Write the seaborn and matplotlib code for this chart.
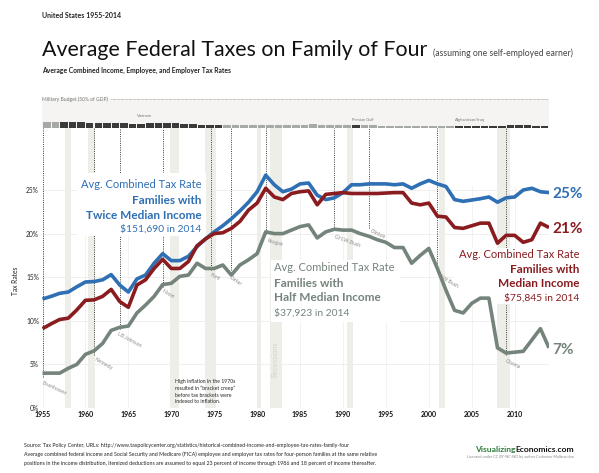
import matplotlib
matplotlib.use("Agg")
import matplotlib.pyplot as plt
from matplotlib.patches import Rectangle
import numpy as np
import pandas as pd
import seaborn as sns

# ---------------- data ----------------
years = list(range(1955, 2015))
twice_median_income = [12.5, 12.8, 13.15, 13.3, 13.9, 14.45, 14.5, 14.7, 15.3, 14.1,
                       13.3, 14.8, 15.25, 16.6, 17.7, 16.9, 16.9, 17.4, 18.5, 19.4,
                       20.2, 20.9, 21.7, 22.6, 23.6, 24.8, 26.7, 25.6, 24.8, 25.1,
                       25.7, 25.8, 24.4, 23.9, 24.1, 24.7, 25.6, 25.6, 25.7, 25.7,
                       25.7, 25.6, 25.7, 25.2, 25.7, 26.1, 25.7, 25.4, 23.9, 23.7,
                       23.85, 24.0, 24.2, 23.6, 24.1, 24.2, 25.0, 25.2, 24.8, 24.7]
median_income = [9.1, 9.65, 10.15, 10.3, 11.25, 12.35, 12.4, 12.8, 13.6, 12.2,
                 11.55, 14.1, 14.7, 16.0, 17.05, 16.0, 16.0, 16.8, 18.6, 19.4,
                 20.0, 20.1, 20.6, 21.4, 22.7, 23.5, 25.2, 24.2, 23.9, 24.6,
                 24.8, 24.9, 23.3, 24.5, 24.6, 24.7, 24.6, 24.6, 24.6, 24.6,
                 24.65, 24.7, 24.7, 23.5, 23.3, 23.5, 22.0, 21.9, 20.7, 20.6,
                 20.9, 21.2, 21.2, 18.9, 19.8, 19.8, 19.0, 19.3, 21.2, 20.7]
half_median_income = [4.0, 4.0, 4.0, 4.55, 5.0, 6.15, 6.55, 7.4, 8.9, 9.25,
                      9.4, 10.9, 11.8, 12.8, 14.15, 14.3, 15.1, 15.25, 16.6, 16.0,
                      16.0, 16.4, 15.25, 16.4, 17.0, 17.7, 20.2, 20.0, 20.0, 20.4,
                      20.8, 21.0, 19.5, 20.2, 20.5, 20.4, 20.4, 20.0, 19.7, 19.3,
                      19.0, 18.4, 18.4, 16.6, 17.5, 18.3, 16.0, 13.5, 11.2, 10.9,
                      12.0, 12.6, 12.6, 6.9, 6.3, 6.4, 6.5, 7.8, 9.1, 6.9]

series_names = ["Twice Median Income", "Median Income", "Half Median Income"]
series_colors = ["#2f6fb3", "#8a1c1f", "#74847b"]
end_labels = ["25%", "21%", "7%"]

mil_years = list(range(1955, 2014))
military_pct_gdp = [11.0, 10.2, 10.2, 10.2, 9.8, 9.2, 9.2, 9.0, 8.6, 8.3,
                    7.4, 7.7, 8.8, 9.4, 8.7, 8.1, 7.3, 6.7, 5.8, 5.5,
                    5.5, 5.2, 4.9, 4.7, 4.6, 4.9, 5.1, 5.6, 5.9, 5.8,
                    6.0, 6.1, 6.0, 5.8, 5.6, 5.2, 4.6, 4.8, 4.4, 4.0,
                    3.7, 3.4, 3.3, 3.1, 3.0, 2.9, 2.9, 3.2, 3.6, 3.8,
                    3.9, 3.8, 3.9, 4.2, 4.6, 4.7, 4.6, 4.2, 3.8]
war_years = list(range(1957, 1976)) + [1991] + list(range(2003, 2014))
war_names = ["Vietnam", "Persian Gulf", "Afghanistan/Iraq"]
war_label_x = [1966.9, 1991.0, 2003.0]

recessions = [(1957.6, 1958.3), (1960.3, 1961.1), (1969.9, 1970.9), (1973.9, 1975.2),
              (1980.0, 1980.5), (1981.5, 1982.9), (1990.5, 1991.2), (2001.2, 2001.9),
              (2007.9, 2009.5)]

presidents = ["Eisenhower", "Kennedy", "L.B.Johnson", "Nixon", "Ford", "Carter",
              "Reagan", "G.H.W.Bush", "Clinton", "G.W.Bush", "Obama"]
pres_start = [1955, 1961, 1964, 1969, 1974.6, 1977, 1981, 1989, 1993, 2001, 2009]
pres_line_end = [3.5, 6.1, 9.1, 13.9, 15.8, 15.8, 20.0, 20.8, 20.6, 15.6, 6.1]
pres_label_x = [1955.05, 1961.2, 1963.8, 1969.1, 1974.7, 1977.0, 1981.2, 1989.1,
                1993.3, 2001.3, 2009.1]
pres_label_y = [3.2, 5.9, 8.8, 13.7, 15.5, 15.3, 19.5, 19.9, 20.6, 15.4, 5.7]
pres_label_rot = [-25, -30, -28, -30, -25, -35, -15, -20, -25, -30, -25]

ytick_vals = [0, 5, 10, 15, 20, 25]
xtick_vals = list(range(1955, 2015, 5))

# ---------------- style ----------------
sns.set_style("white")
plt.rcParams["font.family"] = ["Lato", "DejaVu Sans"]

W, H = 599, 473
fig = plt.figure(figsize=(W / 100, H / 100), dpi=100)
renderer = fig.canvas.get_renderer()

def fx(px):
    return px / W

def fy(py):
    return 1 - py / H

def fit(t, target_px):
    bb = t.get_window_extent(renderer)
    t.set_fontsize(t.get_fontsize() * target_px / bb.width)
    return t

X0, X1 = 42.5, 549.0
Y0, Y1 = 408.0, 128.0
YMAX = (Y0 - Y1) / 8.72

ax = fig.add_axes([fx(X0), fy(Y0), (X1 - X0) / W, (Y0 - Y1) / H])
ax.set_xlim(1955, 2014)
ax.set_ylim(0, YMAX)
for s in ax.spines.values():
    s.set_visible(False)

# grid
for yv in ytick_vals:
    ax.axhline(yv, color="#ededed", lw=0.6, zorder=0.5)
for xv in xtick_vals:
    ax.axvline(xv, ymax=25.5 / YMAX, color="#f0f0f0", lw=0.6, zorder=0.5)

# recessions
for a, b in recessions:
    ax.axvspan(a, b, color="#eeeee8", lw=0, zorder=0.6)

# presidential dotted lines
ax.vlines(pres_start, pres_line_end, YMAX, colors="#3c3c3c",
          linestyles=(0, (1.0, 1.3)), lw=0.7, zorder=1)
for name, x, y, r in zip(presidents, pres_label_x, pres_label_y, pres_label_rot):
    ax.text(x, y, name, rotation=r, rotation_mode="anchor",
            ha="left", va="top", fontsize=3.7, color="#8c8c8c", zorder=6)

ax.text(1982.05, 5.6, "Recessions", rotation=90, ha="center", va="center",
        fontsize=5.3, color="#d3d3cd", zorder=1)

# data lines
df = pd.DataFrame({
    "year": years * 3,
    "rate": twice_median_income + median_income + half_median_income,
    "group": np.repeat(series_names, len(years)),
})
sns.lineplot(data=df, x="year", y="rate", hue="group", hue_order=series_names,
             palette=series_colors, linewidth=2.6, legend=False, ax=ax, zorder=5,
             solid_joinstyle="round", solid_capstyle="butt")
ax.set_xlabel("")
ax.set_ylabel("Tax Rates", fontsize=4.8, color="#222222", labelpad=10)
ax.yaxis.set_label_coords(-0.047, 0.455)

ax.set_yticks(ytick_vals)
ax.set_yticklabels([f"{v}%" for v in ytick_vals], fontsize=4.8, color="#222222")
ax.set_xticks(xtick_vals)
ax.set_xticklabels([str(v) for v in xtick_vals], fontsize=5.0, fontweight="bold",
                   color="#111111")
ax.tick_params(axis="both", length=0, pad=2.5)

# end labels
for lab, col, series in zip(end_labels, series_colors,
                            [twice_median_income, median_income, half_median_income]):
    ax.text(2014.4, series[-1] - 0.2, lab, color=col, fontsize=11, fontweight="bold",
            ha="left", va="center", clip_on=False, zorder=6)

# annotation blocks with white backing
def block(x_left, x_right, y_bot, y_top):
    ax.add_patch(Rectangle((x_left, y_bot), x_right - x_left, y_top - y_bot,
                           facecolor="white", edgecolor="none", zorder=3,
                           clip_on=False))

block(1959.0, 1974.0, 19.7, 26.9)
block(1981.6, 1996.7, 9.9, 17.0)
block(2002.8, 2018.2, 11.9, 18.3)

def tblock(x, ys, texts, col, ha):
    styles = [("normal", 8.0), ("bold", 8.5), ("bold", 8.5), ("normal", 7.4)]
    for (w, fs), y, t in zip(styles, ys, texts):
        ax.text(x, y, t, color=col, fontsize=fs, fontweight=w, ha=ha, va="center",
                zorder=4, clip_on=False)

tblock(1973.55, [25.6, 23.8, 22.1, 20.5],
       ["Avg. Combined Tax Rate", "Families with", "Twice Median Income", "$151,690 in 2014"],
       series_colors[0], "right")
tblock(1982.0, [16.1, 14.3, 12.7, 10.9],
       ["Avg. Combined Tax Rate", "Families with", "Half Median Income", "$37,923 in 2014"],
       series_colors[2], "left")
tblock(2017.5, [17.65, 15.9, 14.3, 12.6],
       ["Avg. Combined Tax Rate", "Families with", "Median Income", "$75,845 in 2014"],
       series_colors[1], "right")

ax.text(1970.4, 3.3, "High inflation in the 1970s\nresulted in \u201cbracket creep\u201d\n"
        "before tax brackets were\nindexed to inflation.", fontsize=3.7,
        color="#222222", ha="left", va="top", linespacing=1.35, zorder=4)

# ---------------- military budget strip ----------------
MT, MB = 99.0, 128.0
max_ = fig.add_axes([fx(X0), fy(MB), (X1 - X0) / W, (MB - MT) / H])
max_.set_xlim(1955, 2014)
max_.set_ylim(0, 50)
max_.set_facecolor("#f5f4f2")
for s in max_.spines.values():
    s.set_visible(False)
max_.set_xticks([])
max_.set_yticks([])
bar_cols = ["#3a3a3a" if y in war_years else "#a6a9a6" for y in mil_years]
max_.bar([y + 0.06 for y in mil_years], military_pct_gdp, width=0.88, align="edge",
         color=bar_cols, lw=0)
max_.plot([1963.0, 2014], [49.3, 49.3], ls=(0, (0.8, 0.8)), color="#9a9a9a", lw=0.6)
max_.text(1955, 49.3, "Military Budget (50% of GDP)", fontsize=3.6, color="#777777",
          ha="left", va="center", clip_on=False)
for name, x in zip(war_names, war_label_x):
    ha = "center" if name == "Vietnam" else "left"
    max_.text(x, 17 if name == "Vietnam" else 11, name, fontsize=3.0, color="#777777",
              ha=ha, va="bottom")

# ---------------- titles ----------------
t = fig.text(fx(42), fy(15), "United States 1955-2014", fontsize=6.2, fontweight="bold",
             color="#222222", va="center", ha="left")
fit(t, 80)
t = fig.text(fx(42), fy(56), "Average Federal Taxes on Family of Four", fontsize=15,
             color="#111111", va="baseline", ha="left")
fit(t, 385)
t = fig.text(fx(433), fy(56), "(assuming one self-employed earner)", fontsize=8,
             color="#444444", va="baseline", ha="left")
fit(t, 139)
t = fig.text(fx(42), fy(70), "Average Combined Income, Employee, and Employer Tax Rates",
             fontsize=5.6, fontweight="bold", color="#222222", va="center", ha="left")
fit(t, 190)

# ---------------- footer ----------------
foot = ["Source: Tax Policy Center, URLs: http://www.taxpolicycenter.org/statistics/historical-combined-income-and-employee-tax-rates-family-four",
        "Average combined federal income and Social Security and Medicare (FICA) employee and employer tax rates for four-person families at the same relative",
        "positions in the income distribution, itemized deductions are assumed to equal 23 percent of income through 1986 and 18 percent of income thereafter."]
for i, line in enumerate(foot):
    fig.text(fx(24), fy(445 + 9 * i), line, fontsize=3.75,
             color="#222222", va="center", ha="left")

t1 = fig.text(fx(574), fy(449), "Economics.com", fontsize=6.1, fontweight="bold",
              color="#111111", ha="right", va="center")
bb = t1.get_window_extent(renderer)
fig.text(bb.x0 / W, fy(449), "Visualizing", fontsize=6.1, fontweight="bold",
         color="#2e7d3a", ha="right", va="center")
fig.text(fx(574), fy(457), "Licensed under CC BY-NC-ND by author Catherine Mulbrandon",
         fontsize=2.7, color="#888888", ha="right", va="center")

fig.savefig("out.png", dpi=100)
